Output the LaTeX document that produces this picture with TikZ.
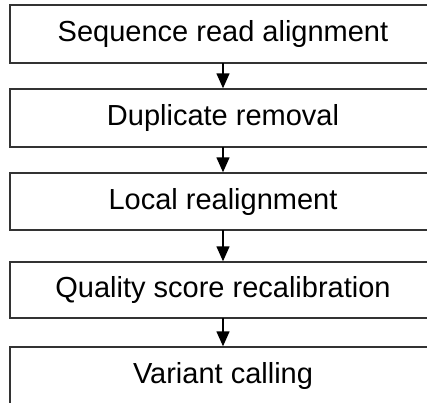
\documentclass[tikz,border=0pt]{standalone}
\usepackage{fontspec}
\setmainfont{Liberation Sans}
\usetikzlibrary{arrows.meta}
\begin{document}
\begin{tikzpicture}[x=1pt,y=-1pt,
  stagebox/.style={draw=black!80, line width=1.4pt, rectangle, inner sep=0pt, outer sep=0pt,
    minimum width=426pt, font=\fontsize{29}{32}\selectfont},
  flowarrow/.style={line width=1.4pt, draw=black, -{Triangle[width=13pt,length=15pt]}, shorten >=0.7pt}]
  \useasboundingbox (0,0) rectangle (427,402);
  \node[stagebox, minimum height=58pt] (s1) at (223,34) {Sequence read alignment};
  \node[stagebox, minimum height=58pt] (s2) at (223,118) {Duplicate removal};
  \node[stagebox, minimum height=57pt] (s3) at (223,201.5) {Local realignment};
  \node[stagebox, minimum height=56pt] (s4) at (223,290) {Quality score recalibration};
  \node[stagebox, minimum height=58pt] (s5) at (223,376) {Variant calling};
  \draw[flowarrow] (s1.south) -- (s2.north);
  \draw[flowarrow] (s2.south) -- (s3.north);
  \draw[flowarrow] (s3.south) -- (s4.north);
  \draw[flowarrow] (s4.south) -- (s5.north);
\end{tikzpicture}
\end{document}
